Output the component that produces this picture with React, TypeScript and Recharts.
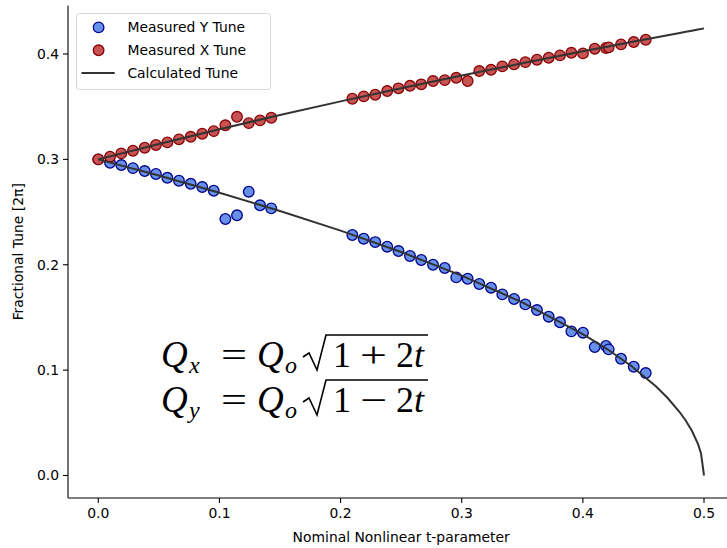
import { ComposedChart, Scatter, Line, XAxis, YAxis, Legend } from 'recharts'

// measured t-parameter values (shared by both planes)
const tMeasured = [
  0, 0.0097, 0.019, 0.0286, 0.0383, 0.0476, 0.057, 0.0666, 0.0763, 0.0858, 0.0953, 0.1049, 0.1145, 0.1242, 0.1335, 0.1428,
  0.2097, 0.2191, 0.2286, 0.2385, 0.2478, 0.2573, 0.2666, 0.2763, 0.286, 0.2955, 0.3049, 0.3145, 0.3242, 0.3335, 0.3432,
  0.3525, 0.3621, 0.3718, 0.3811, 0.3905, 0.4001, 0.4098, 0.4191, 0.4213, 0.4315, 0.442, 0.4519,
]
const tuneX = [
  0.3, 0.3025, 0.3057, 0.3082, 0.311, 0.3136, 0.3161, 0.319, 0.3214, 0.3243, 0.3268, 0.3323, 0.3404, 0.3344, 0.337, 0.3395,
  0.3575, 0.3598, 0.3613, 0.3648, 0.3674, 0.3698, 0.3712, 0.3743, 0.3752, 0.3774, 0.3743, 0.3838, 0.385, 0.3882, 0.3901,
  0.3923, 0.3945, 0.3964, 0.3987, 0.4011, 0.4006, 0.405, 0.4056, 0.4063, 0.4091, 0.4113, 0.4135,
]
const tuneY = [
  0.3, 0.2968, 0.2946, 0.2917, 0.2889, 0.2861, 0.2825, 0.2797, 0.2768, 0.2737, 0.2702, 0.2434, 0.2469, 0.2693, 0.2564, 0.2535,
  0.2282, 0.2247, 0.2215, 0.2171, 0.213, 0.2083, 0.2045, 0.2, 0.1969, 0.188, 0.1867, 0.1817, 0.1782, 0.1719, 0.1675,
  0.1624, 0.157, 0.1507, 0.1454, 0.1368, 0.1355, 0.1219, 0.1229, 0.1197, 0.1108, 0.1032, 0.0972,
]

// calculated tune curve
const tCalc = [0, 0.05, 0.1, 0.15, 0.2, 0.25, 0.3, 0.35, 0.4, 0.42, 0.44, 0.46, 0.47, 0.48, 0.485, 0.49, 0.495, 0.4975, 0.5]
const calcX = [0.3, 0.3146, 0.3286, 0.3421, 0.355, 0.3674, 0.3795, 0.3912, 0.4025, 0.4069, 0.4113, 0.4157, 0.4178, 0.42, 0.4211, 0.4221, 0.4232, 0.4237, 0.4243]
const calcY = [0.3, 0.2846, 0.2683, 0.251, 0.2324, 0.2121, 0.1897, 0.1643, 0.1342, 0.12, 0.1039, 0.0849, 0.0735, 0.06, 0.052, 0.0424, 0.03, 0.0212, 0]

const xTicks = [0, 0.1, 0.2, 0.3, 0.4, 0.5]
const yTicks = [0, 0.1, 0.2, 0.3, 0.4]

const measX = tMeasured.map((t, i) => ({ t, q: tuneX[i] }))
const measY = tMeasured.map((t, i) => ({ t, q: tuneY[i] }))
const calc = tCalc.map((t, i) => ({ t, qx: calcX[i], qy: calcY[i] }))

const SANS = '"DejaVu Sans", sans-serif'
const SERIF = '"Liberation Serif", "DejaVu Serif", serif'
const BLUE = '#6690ea'
const BLUE_EDGE = '#00008b'
const RED = '#c65454'
const RED_EDGE = '#8b0000'
const LINE = '#333333'

const dot = (fill: string, stroke: string) => (p: any) =>
  <circle cx={p.cx} cy={p.cy} r={5.3} fill={fill} stroke={stroke} strokeWidth={1.3} />

function LegendBox() {
  const rows = [14.4, 37.3, 60]
  return (
    <svg width={196} height={78} style={{ display: 'block' }} fontFamily={SANS} fontSize={13.9}>
      <rect x={0.5} y={0.5} width={194} height={76} rx={3} fill="#fff" fillOpacity={0.8} stroke="#d6d6d6" />
      <circle cx={22.6} cy={rows[0]} r={5.3} fill={BLUE} stroke={BLUE_EDGE} strokeWidth={1.3} />
      <text x={51.4} y={rows[0]} dy="0.36em">Measured Y Tune</text>
      <circle cx={22.6} cy={rows[1]} r={5.3} fill={RED} stroke={RED_EDGE} strokeWidth={1.3} />
      <text x={51.4} y={rows[1]} dy="0.36em">Measured X Tune</text>
      <line x1={5.5} x2={38.7} y1={rows[2]} y2={rows[2]} stroke={LINE} strokeWidth={2} />
      <text x={51.4} y={rows[2]} dy="0.36em">Calculated Tune</text>
    </svg>
  )
}

function Equation({ y, sub, op }: { y: number; sub: string; op: string }) {
  return (
    <g fontFamily={SERIF} fill="#000">
      <text x={161} y={y} fontSize={37} fontStyle="italic">Q</text>
      <text x={189} y={y + 6} fontSize={24} fontStyle="italic">{sub}</text>
      <text x={221} y={y} fontSize={36} textLength={26} lengthAdjust="spacingAndGlyphs">=</text>
      <text x={257} y={y} fontSize={37} fontStyle="italic">Q</text>
      <text x={285} y={y + 6} fontSize={24} fontStyle="italic">o</text>
      <path
        d={`M303,${y - 10} L309,${y - 14} L317,${y + 3} L326,${y - 32} L428,${y - 32}`}
        fill="none" stroke="#000" strokeWidth={1.6}
      />
      <text x={333} y={y} fontSize={36}>1</text>
      <text x={360} y={y} fontSize={36} textLength={27} lengthAdjust="spacingAndGlyphs">{op}</text>
      <text x={396} y={y} fontSize={36}>2</text>
      <text x={414} y={y} fontSize={36} fontStyle="italic">t</text>
    </g>
  )
}

export default function App() {
  const tick = { fill: '#000', fontSize: 13.9, fontFamily: SANS }
  const axisLine = { stroke: '#000', strokeWidth: 1.1 }
  return (
    <div style={{ position: 'relative', width: 727, height: 548, overflow: 'hidden', background: '#fff' }}>
      <style>{'body{margin:0}'}</style>
      <ComposedChart width={745} height={548} margin={{ top: 5.5, right: 10.7, bottom: 0, left: 0 }}>
        <XAxis
          dataKey="t" type="number" domain={[-0.025, 0.525]} ticks={xTicks} allowDataOverflow
          tickFormatter={(v) => v.toFixed(1)} height={50} tickSize={5} tickMargin={5}
          tick={tick} tickLine={axisLine} axisLine={axisLine}
          label={{ value: 'Nominal Nonlinear t-parameter', position: 'insideBottom', offset: 6, fill: '#000', fontSize: 13.9, fontFamily: SANS }}
        />
        <XAxis
          xAxisId="top" orientation="top" type="number" domain={[-0.025, 0.525]} height={0}
          tick={false} tickLine={false} axisLine={axisLine}
        />
        <YAxis
          type="number" domain={[-0.02135, 0.446]} ticks={yTicks} allowDataOverflow
          tickFormatter={(v) => v.toFixed(1)} width={68} tickSize={5} tickMargin={4}
          tick={tick} tickLine={axisLine} axisLine={axisLine}
        />
        <Legend
          layout="vertical" align="center" verticalAlign="middle"
          wrapperStyle={{ left: 75.7, top: 13.3, width: 196, height: 78 }}
          content={() => <LegendBox />}
        />
        <Scatter name="Measured Y Tune" data={measY} dataKey="q" shape={dot(BLUE, BLUE_EDGE)} isAnimationActive={false} />
        <Scatter name="Measured X Tune" data={measX} dataKey="q" shape={dot(RED, RED_EDGE)} isAnimationActive={false} />
        <Line data={calc} dataKey="qx" type="linear" stroke={LINE} strokeWidth={2} dot={false} activeDot={false} isAnimationActive={false} {...({ zIndex: 700 } as any)} />
        <Line data={calc} dataKey="qy" type="linear" stroke={LINE} strokeWidth={2} dot={false} activeDot={false} isAnimationActive={false} {...({ zIndex: 700 } as any)} />
      </ComposedChart>
      <svg width={727} height={548} style={{ position: 'absolute', left: 0, top: 0, pointerEvents: 'none' }}>
        <text transform="translate(23,251.75) rotate(-90)" textAnchor="middle" fontFamily={SANS} fontSize={13.9} fill="#000">
          Fractional Tune [2π]
        </text>
        <Equation y={367} sub="x" op="+" />
        <Equation y={412} sub="y" op="−" />
      </svg>
    </div>
  )
}
